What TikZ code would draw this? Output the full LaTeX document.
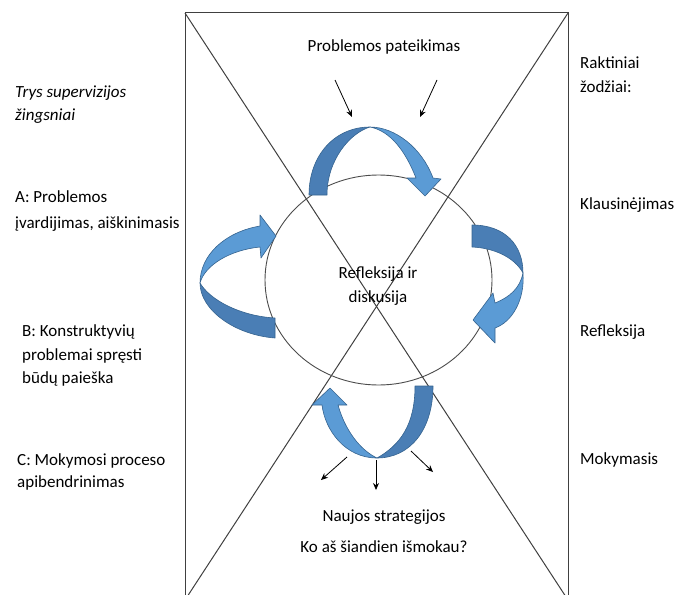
\documentclass[tikz,border=0pt]{standalone}
\usepackage{fontspec}
\setmainfont{Carlito}
\usetikzlibrary{arrows.meta}
\definecolor{ablue}{HTML}{5B9BD5}
\definecolor{adark}{HTML}{4A7EB5}
\definecolor{aedge}{HTML}{35638F}
\definecolor{lgray}{HTML}{404040}
\begin{document}
\begin{tikzpicture}[x=1pt,y=-1pt,
  lbl/.style={anchor=base west,inner sep=0pt,font=\fontsize{17}{24}\selectfont},
  ctr/.style={anchor=base,inner sep=0pt,font=\fontsize{17}{24}\selectfont},
  frame/.style={draw=lgray,line width=1pt},
  smallarr/.style={draw=black,line width=0.8pt,-{Stealth[length=7pt,width=6pt]}},
  lightband/.style={fill=ablue,draw=aedge,line width=0.6pt,line join=round},
  darkband/.style={fill=adark,draw=aedge,line width=0.6pt,line join=round}]
\useasboundingbox (0,0) rectangle (676,594);
% frame and diagonals
\coordinate (tl) at (185,13);
\coordinate (tr) at (568,13);
\coordinate (br) at (568,600);
\coordinate (bl) at (185,600);
\draw[frame] (bl) -- (tl) -- (tr) -- (br);
\draw[frame] (tl) -- (br);
\draw[frame] (tr) -- (bl);
% circle
\draw[draw=black!70,line width=0.9pt] (378.5,280) ellipse [x radius=113.5pt, y radius=105pt];
\node[ctr] (refl1) at (378,278) {Refleksija ir};
\node[ctr] (refl2) at (378,302) {diskusija};
% top text and arrows
\node[ctr] (top) at (384,52) {Problemos pateikimas};
\coordinate (ta1) at (335,80);
\coordinate (ta1e) at (352,117);
\coordinate (ta2) at (437,80);
\coordinate (ta2e) at (420,117);
\draw[smallarr] (ta1) -- (ta1e);
\draw[smallarr] (ta2) -- (ta2e);
% bottom arrows and text
\coordinate (ba0) at (347,457);
\coordinate (ba0e) at (321,480);
\coordinate (ba1) at (376,460);
\coordinate (ba1e) at (376,490);
\coordinate (ba2) at (411,451);
\coordinate (ba2e) at (433,472);
\draw[smallarr] (ba0) -- (ba0e);
\draw[smallarr] (ba1) -- (ba1e);
\draw[smallarr] (ba2) -- (ba2e);
\node[ctr] (ns) at (384,521) {Naujos strategijos};
\node[ctr] (ko) at (384,552) {Ko aš šiandien išmokau?};
% left texts
\node[lbl,font=\fontsize{17}{24}\selectfont\itshape] (t1) at (15,97) {Trys supervizijos};
\node[lbl,font=\fontsize{17}{24}\selectfont\itshape] (t2) at (15,120) {žingsniai};
\node[lbl] (a1) at (15,202) {A: Problemos};
\node[lbl] (a2) at (15,228) {įvardijimas, aiškinimasis};
\node[lbl] (b1) at (22,336) {B: Konstruktyvių};
\node[lbl] (b2) at (22,360) {problemai spręsti};
\node[lbl] (b3) at (22,383) {būdų paieška};
\node[lbl] (c1) at (17,465) {C: Mokymosi proceso};
\node[lbl] (c2) at (17,487) {apibendrinimas};
% right texts
\node[lbl] (r1) at (580,68) {Raktiniai};
\node[lbl] (r2) at (580,92) {žodžiai:};
\node[lbl] (r3) at (580,209) {Klausinėjimas};
\node[lbl] (r4) at (580,336) {Refleksija};
\node[lbl] (r5) at (580,464) {Mokymasis};
% top curved arrow
\path[darkband] (309,195) .. controls (309,155) and (335,127) .. (370,127)
  .. controls (350,133) and (327,160) .. (327,195) -- cycle;
\path[lightband] (370,127) .. controls (395,127) and (422,148) .. (433,178)
  -- (441,179) -- (425,196) -- (407,178) -- (416,178)
  .. controls (405,150) and (390,131) .. (370,127) -- cycle;
% left curved arrow
\path[darkband] (200,283) .. controls (200,310) and (235,335) .. (275,338)
  -- (275,318) .. controls (240,316) and (210,300) .. (200,283) -- cycle;
\path[lightband] (200,283) .. controls (200,255) and (225,232) .. (260,226)
  -- (260,215) -- (276,236) -- (261,258) -- (260,247)
  .. controls (230,250) and (205,265) .. (200,283) -- cycle;
% right curved arrow
\path[darkband] (472,225) .. controls (505,225) and (523,245) .. (523,273)
  .. controls (515,258) and (495,248) .. (472,247) -- cycle;
\path[lightband] (523,273) .. controls (525,300) and (512,322) .. (495,328)
  -- (495,343) -- (473,320) -- (493,293) -- (495,303)
  .. controls (510,297) and (520,288) .. (523,273) -- cycle;
% bottom curved arrow
\path[darkband] (433,386) .. controls (433,430) and (410,458) .. (377,458)
  .. controls (400,445) and (415,425) .. (415,386) -- cycle;
\path[lightband] (377,458) .. controls (345,458) and (325,430) .. (322,405)
  -- (312,405) -- (330,388) -- (347,405) -- (338,405)
  .. controls (345,430) and (360,450) .. (377,458) -- cycle;
\end{tikzpicture}
\end{document}
